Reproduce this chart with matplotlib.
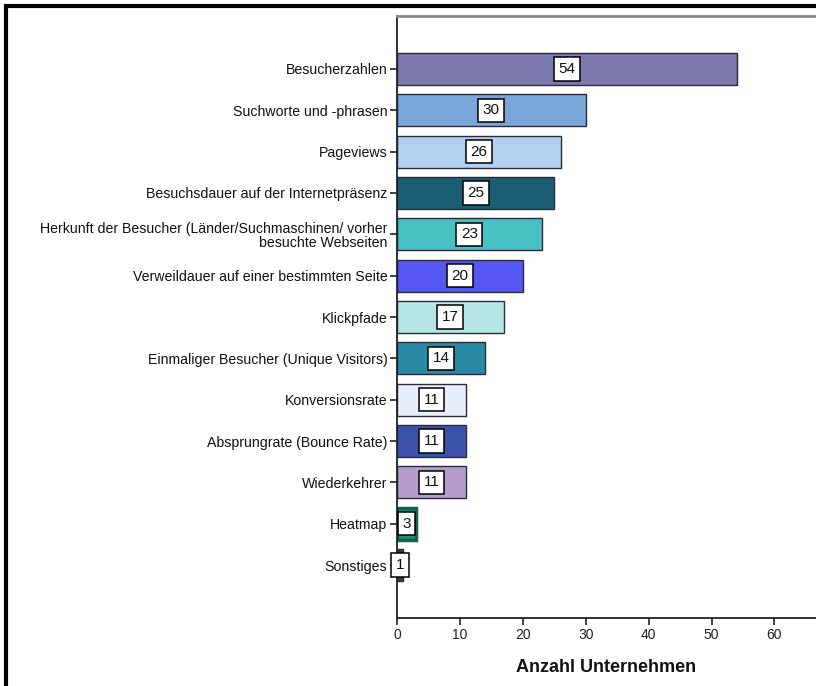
import matplotlib.pyplot as plt
from matplotlib.patches import Rectangle

plt.rcParams['font.family'] = ['Liberation Sans', 'DejaVu Sans']

categories = [
    "Besucherzahlen",
    "Suchworte und -phrasen",
    "Pageviews",
    "Besuchsdauer auf der Internetpräsenz",
    "Herkunft der Besucher (Länder/Suchmaschinen/ vorher\nbesuchte Webseiten",
    "Verweildauer auf einer bestimmten Seite",
    "Klickpfade",
    "Einmaliger Besucher (Unique Visitors)",
    "Konversionsrate",
    "Absprungrate (Bounce Rate)",
    "Wiederkehrer",
    "Heatmap",
    "Sonstiges",
]
values = [54, 30, 26, 25, 23, 20, 17, 14, 11, 11, 11, 3, 1]
colors = ["#7b79ad", "#79a6d8", "#b2d0ef", "#1b5d73", "#48c1c2", "#5656f2",
          "#b6e5e5", "#2a8aa6", "#e6effb", "#3a52a9", "#b59ccf", "#1e8c72",
          "#3a3a4a"]
xticks = [0, 10, 20, 30, 40, 50, 60]

fig = plt.figure(figsize=(8.16, 6.86), dpi=100)
# axes run off the right edge, like a cropped screenshot
ax = fig.add_axes([397 / 816, 1 - 618 / 686, (816 - 397) / 816 + 0.01, (618 - 16) / 686])

pos = list(range(len(categories)))
bars = ax.barh(pos, values, height=0.77, color=colors, edgecolor="#2b2b3a", linewidth=1.0)
# the heatmap bar gets a heavy green outline
bars[11].set_edgecolor("#17604e")
bars[11].set_linewidth(2.5)

for y, v in zip(pos, values):
    ax.text(v / 2, y, str(v), ha="center", va="center", fontsize=11, color="#111111",
            bbox=dict(boxstyle="square,pad=0.3", fc="white", ec="black", lw=1.1))

ax.set_ylim(len(categories) - 1 + 1.28, -1.28)
ax.set_xlim(0, 67.9)
ax.set_yticks(pos)
ax.set_yticklabels(categories, fontsize=10.2, ha="right", linespacing=1.0, color="#111111")
ax.set_xticks(xticks)
ax.set_xticklabels([str(t) for t in xticks], fontsize=10, color="#222222")
ax.tick_params(axis="both", length=5, width=1.2, color="#222222", pad=2)
ax.set_xlabel("Anzahl Unternehmen", fontsize=13, fontweight="bold", color="#111111")
ax.xaxis.set_label_coords(0.5 * 419 / (419 + 8.16), -0.068)

for side in ("left", "bottom"):
    ax.spines[side].set_linewidth(1.3)
    ax.spines[side].set_color("#222222")
ax.spines["top"].set_color("#888888")
ax.spines["top"].set_linewidth(2)
ax.spines["right"].set_visible(False)

# outer frame (left and top edges visible)
fig.patches.append(Rectangle((6 / 816, -0.1), 2.0, 1.1 - 6 / 686, transform=fig.transFigure,
                             fill=False, ec="black", lw=3, zorder=10))

fig.savefig("out.png", dpi=100)
